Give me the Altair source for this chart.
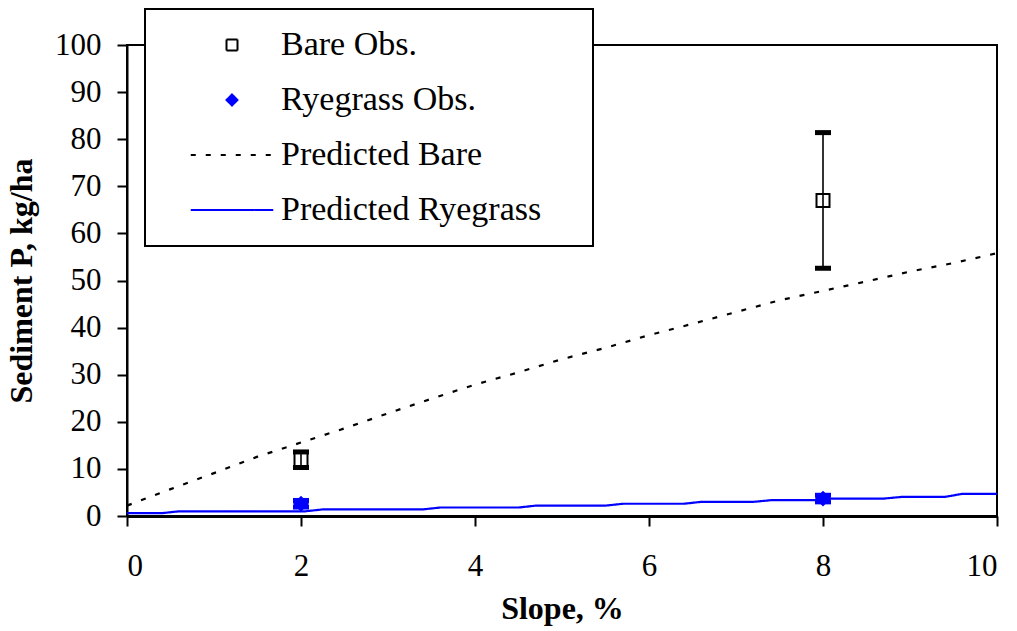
import altair as alt
import pandas as pd

# ---- data ----
series_names = ["Bare Obs.", "Ryegrass Obs.", "Predicted Bare", "Predicted Ryegrass"]
series_strokes = ["black", "#0000ff", "black", "#0000ff"]
series_fills = ["transparent", "#0000ff", "transparent", "transparent"]
series_shapes = ["square", "diamond", "M-7.5,0L7.5,0", "M-7.5,0L7.5,0"]
series_dashes = [[1, 0], [1, 0], [5, 10], [1, 0]]

obs_slope = [2, 8]
bare_obs = [12.0, 67.0]
bare_low = [10.3, 52.6]
bare_high = [13.6, 81.4]
rye_obs = [2.6, 3.7]
rye_low = [1.9, 3.0]
rye_high = [3.3, 4.4]

pred_bare_slope = [0, 0.5, 1, 1.5, 2, 2.5, 3, 3.5, 4, 4.5, 5, 5.5, 6, 6.5, 7, 7.5, 8, 8.5, 9, 9.5, 10]
pred_bare = [2.2, 5.7, 9.1, 12.6, 15.6, 18.6, 21.8, 24.9, 27.9, 30.5, 33.3, 35.7, 38.4, 40.8,
             43.3, 45.8, 47.8, 49.8, 51.9, 53.7, 55.8]

pred_rye_slope = [0, 0.4, 0.6, 2.05, 2.25, 3.4, 3.6, 4.5, 4.7, 5.5, 5.7, 6.4, 6.6, 7.2, 7.4,
                  7.9, 8.1, 8.7, 8.9, 9.4, 9.6, 10]
pred_rye = [0.6, 0.6, 1.0, 1.0, 1.4, 1.4, 1.8, 1.8, 2.2, 2.2, 2.6, 2.6, 3.0, 3.0, 3.35,
            3.35, 3.7, 3.7, 4.05, 4.05, 4.7, 4.7]

x_ticks = [0, 2, 4, 6, 8, 10]
y_ticks = list(range(0, 101, 10))

# ---- tables ----
obs_df = pd.DataFrame({
    "slope": obs_slope * 2,
    "value": bare_obs + rye_obs,
    "low": bare_low + rye_low,
    "high": bare_high + rye_high,
    "series": ["Bare Obs."] * 2 + ["Ryegrass Obs."] * 2,
})
bare_df = obs_df[obs_df.series == "Bare Obs."]
rye_df = obs_df[obs_df.series == "Ryegrass Obs."]

pred_df = pd.DataFrame({
    "slope": pred_bare_slope + pred_rye_slope,
    "value": pred_bare + pred_rye,
    "series": ["Predicted Bare"] * len(pred_bare) + ["Predicted Ryegrass"] * len(pred_rye),
    "idx": list(range(len(pred_bare))) + list(range(len(pred_rye))),
})

FONT = "Liberation Serif"

x_scale = alt.Scale(domain=[0, 10], nice=False)
y_scale = alt.Scale(domain=[0, 100], nice=False)

x_axis = alt.Axis(values=x_ticks, title="Slope, %", labelPadding=25, titlePadding=12,
                  domainWidth=3, tickSize=10)
y_axis = alt.Axis(values=y_ticks, title="Sediment P, kg/ha", labelPadding=16, titlePadding=16,
                  tickSize=10)

leg = alt.Legend(
    title="\u00a0", titleOrient="right", titlePadding=33, titleFontSize=10,
    orient="none", legendX=18, legendY=-36, direction="vertical",
    labelFont=FONT, labelFontSize=34, labelColor="black", labelLimit=600,
    symbolSize=121, symbolStrokeWidth=2, symbolOffset=51, labelOffset=32,
    rowPadding=21, padding=19, strokeColor="black", fillColor="white",
)

stroke_enc = alt.Stroke("series:N", scale=alt.Scale(domain=series_names, range=series_strokes), legend=leg)
fill_enc = alt.Fill("series:N", scale=alt.Scale(domain=series_names, range=series_fills), legend=leg)
shape_enc = alt.Shape("series:N", scale=alt.Scale(domain=series_names, range=series_shapes), legend=leg)
dash_enc = alt.StrokeDash("series:N", scale=alt.Scale(domain=series_names, range=series_dashes), legend=leg)

X = alt.X("slope:Q", scale=x_scale, axis=x_axis)
Y = alt.Y("value:Q", scale=y_scale, axis=y_axis)

lines = alt.Chart(pred_df).mark_line(strokeWidth=2.2).encode(
    x=X, y=Y, stroke=stroke_enc, strokeDash=dash_enc, order="idx:Q"
)

bare_rule = alt.Chart(bare_df).mark_rule(color="black", strokeWidth=1.6).encode(
    x=X, y=alt.Y("low:Q", scale=y_scale, axis=y_axis), y2="high:Q"
)
rye_rule = alt.Chart(rye_df).mark_rule(color="#0000ff", strokeWidth=1.6).encode(
    x=X, y=alt.Y("low:Q", scale=y_scale, axis=y_axis), y2="high:Q"
)

def caps(df, col, color):
    return alt.Chart(df).mark_tick(orient="horizontal", size=16, thickness=5, color=color, opacity=1).encode(
        x=X, y=alt.Y(f"{col}:Q", scale=y_scale, axis=y_axis)
    )

points = alt.Chart(obs_df).mark_point(size=169, strokeWidth=2, opacity=1).encode(
    x=X, y=Y, stroke=stroke_enc, fill=fill_enc, shape=shape_enc
)

chart = alt.layer(
    lines, bare_rule, rye_rule,
    caps(bare_df, "low", "black"), caps(bare_df, "high", "black"),
    caps(rye_df, "low", "#0000ff"), caps(rye_df, "high", "#0000ff"),
    points,
).properties(
    width=870, height=471,
    autosize=alt.AutoSizeParams(type="none"),
    padding={"left": 127, "top": 45, "right": 20, "bottom": 115},
    background="white",
).configure_view(
    stroke="black", strokeWidth=2
).configure_axis(
    grid=False, domainColor="black", domainWidth=2, tickColor="black", tickWidth=2,
    labelFont=FONT, labelFontSize=31, labelColor="black",
    titleFont=FONT, titleFontSize=32, titleFontWeight="bold", titleColor="black",
).configure_legend(
    strokeWidth=2
)

chart.save("out.html", embed_options={"renderer": "svg", "actions": False})
